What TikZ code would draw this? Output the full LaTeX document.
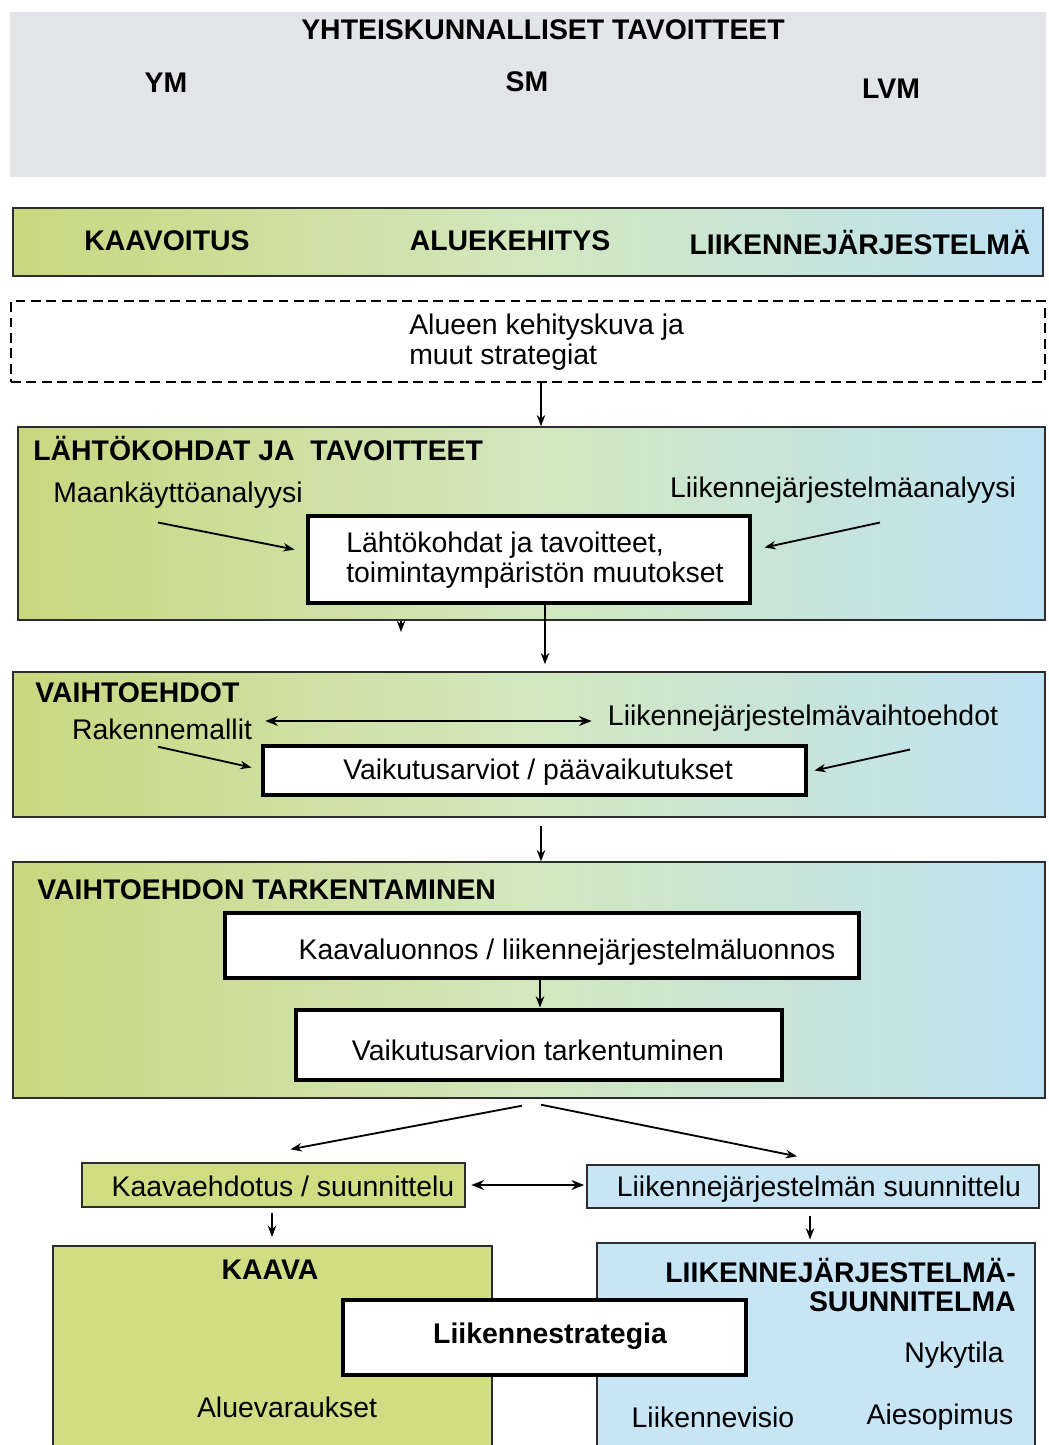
\documentclass[tikz,border=0pt]{standalone}
\usepackage{fontspec}
\setmainfont{Liberation Sans}
\usetikzlibrary{arrows.meta,fit,calc}
\definecolor{greyfill}{RGB}{226,228,231}
\definecolor{lgreen}{RGB}{201,215,126}
\definecolor{lmid}{RGB}{210,231,190}
\definecolor{lblue}{RGB}{190,226,243}
\definecolor{kgreen}{RGB}{208,221,130}
\definecolor{kblue}{RGB}{200,229,246}
\definecolor{edge}{RGB}{45,45,45}

\begin{document}
\begin{tikzpicture}[x=0.025cm,y=-0.025cm,
  txt/.style={font=\fontsize{20.2}{21.3}\selectfont, inner sep=0},
  head/.style={font=\fontsize{20.2}{20.6}\selectfont\bfseries, inner sep=0},
  panel/.style={draw=edge, line width=1pt, inner sep=0,
    left color=lgreen, right color=lblue, middle color=lmid},
  inbox/.style={draw=black, line width=3.5pt, fill=white, inner sep=0},
  smallbox/.style={draw=edge, line width=1pt, inner sep=0},
  conn/.style={line width=1.3pt, -{Stealth[length=8pt,width=6pt]}},
  biconn/.style={line width=2pt, {Stealth[length=9pt,width=7pt]}-{Stealth[length=9pt,width=7pt]}}
]
\useasboundingbox (0,0) rectangle (1048,1445);
\fill[white] (0,0) rectangle (1048,1445);

% Societal goals
\node[fill=greyfill, inner sep=0, fit={(10,12) (1046,177)}] (goals) {};
\node[head] (goalsT) at (543,30) {YHTEISKUNNALLISET TAVOITTEET};
\node[head] (ym) at (166,83) {YM};
\node[head] (sm) at (527,82) {SM};
\node[head] (lvm) at (891,89) {LVM};

% Sectors band
\node[panel, fit={(13,208) (1043,276)}] (band) {};
\node[head] (kaavoitus) at (167,241) {KAAVOITUS};
\node[head] (aluek) at (510,241) {ALUEKEHITYS};
\node[head] (ljs) at (860,243) {LIIKENNEJÄRJESTELMÄ};

% Strategies (dashed)
\node[draw=black, line width=2pt, dash pattern=on 7pt off 4pt, inner sep=0,
  fit={(11,301) (1045,382)}] (strat) {};
\node[txt, anchor=west, align=left] (stratT) at (409,342)
  {Alueen kehityskuva ja\\muut strategiat};

% Starting points and goals
\node[panel, fit={(18,427) (1045,620)}] (lt) {};
\node[head, anchor=west] (ltT) at (33,449) {LÄHTÖKOHDAT JA\ \ TAVOITTEET};
\node[txt] (maa) at (178,495) {Maankäyttöanalyysi};
\node[txt] (lja) at (843,490) {Liikennejärjestelmäanalyysi};
\node[inbox, fit={(308,516) (750,603)}] (lkbox) {};
\node[txt, anchor=west, align=left] (lkT) at (346,560)
  {Lähtökohdat ja tavoitteet,\\toimintaympäristön muutokset};
\coordinate (stub) at (401,632);

% Alternatives
\node[panel, fit={(13,672) (1045,817)}] (vt) {};
\node[head, anchor=west] (vtT) at (35,693) {VAIHTOEHDOT};
\node[txt] (rak) at (162,729) {Rakennemallit};
\node[txt] (ljv) at (803,718) {Liikennejärjestelmävaihtoehdot};
\node[inbox, fit={(263,746) (806,795)}] (vbox) {};
\node[txt] (vboxT) at (538,772) {Vaikutusarviot / päävaikutukset};

% Refinement
\node[panel, fit={(13,862) (1045,1098)}] (vtt) {};
\node[head, anchor=west] (vttT) at (37,890) {VAIHTOEHDON TARKENTAMINEN};
\node[inbox, fit={(225,913) (859,978)}] (kl) {};
\node[txt] (klT) at (567,952) {Kaavaluonnos / liikennejärjestelmäluonnos};
\node[inbox, fit={(296,1010) (782,1080)}] (vat) {};
\node[txt] (vatT) at (538,1050) {Vaikutusarvion tarkentuminen};

% Planning
\node[smallbox, fill=kgreen, fit={(82,1163) (465,1207)}] (ke) {};
\node[txt] (keT) at (283,1186) {Kaavaehdotus / suunnittelu};
\node[smallbox, fill=kblue, fit={(587,1165) (1039,1208)}] (ls) {};
\node[txt] (lsT) at (819,1189) {Liikennejärjestelmän suunnittelu};

% Results
\node[smallbox, fill=kgreen, fit={(53,1246) (492,1450)}] (kaava) {};
\node[head] (kaavaT) at (270,1270) {KAAVA};
\node[txt] (alue) at (287,1407) {Aluevaraukset};
\node[smallbox, fill=kblue, fit={(597,1243) (1035,1450)}] (ljsu) {};
\node[head, anchor=east, align=right] (ljsuT) at (1016,1285)
  {LIIKENNEJÄRJESTELMÄ-\\SUUNNITELMA};
\node[txt] (nyky) at (954,1355) {Nykytila};
\node[txt] (visio) at (713,1417) {Liikennevisio};
\node[txt] (aie) at (940,1417) {Aiesopimus};
\node[inbox, fit={(343,1300) (746,1375)}] (lstr) {};
\node[head] (lstrT) at (550,1336) {Liikennestrategia};

% Connectors
\draw[conn] (strat.south -| 541,0) -- (lt.north -| 541,0);
\draw[conn] ($(maa.south)+(-20,14)$) -- ($(lkbox.west)+(-11,-10)$);
\draw[conn] ($(lja.south)+(37,19)$) -- ($(lkbox.east)+(12,-12)$);
\draw[conn] (lt.south -| stub) -- (stub);
\draw[conn, shorten >=5pt] (lkbox.south -| 545,0) -- (vt.north -| 545,0);

\draw[biconn] ($(rak.east)+(13,-8)$) -- ($(ljv.west)+(-16,3)$);
\draw[conn] ($(rak.south)+(-4,7)$) -- ($(vbox.west)+(-9,-3)$);
\draw[conn] ($(ljv.south)+(107,18)$) -- ($(vbox.east)+(6,0)$);
\draw[conn, shorten <=6pt] (vt.south -| 541,0) -- (vtt.north -| 541,0);

\draw[conn] (kl.south -| 540,0) -- (vat.north -| 540,0);

\draw[conn] ($(vtt.south)+(-7,7)$) -- ($(ke.north)+(17,-13)$);
\draw[conn] ($(vtt.south)+(12,6)$) -- ($(ls.north)+(-16,-8)$);
\draw[biconn, shorten <=4pt, shorten >=1.5pt] (ke.east) -- (ke.east -| ls.west);
\draw[conn, shorten <=3.5pt, shorten >=6pt] (ke.south -| 272,0) -- (kaava.north -| 272,0);
\draw[conn, shorten <=5pt, shorten >=2pt] (ls.south -| 810,0) -- (ljsu.north -| 810,0);
\end{tikzpicture}
\end{document}
